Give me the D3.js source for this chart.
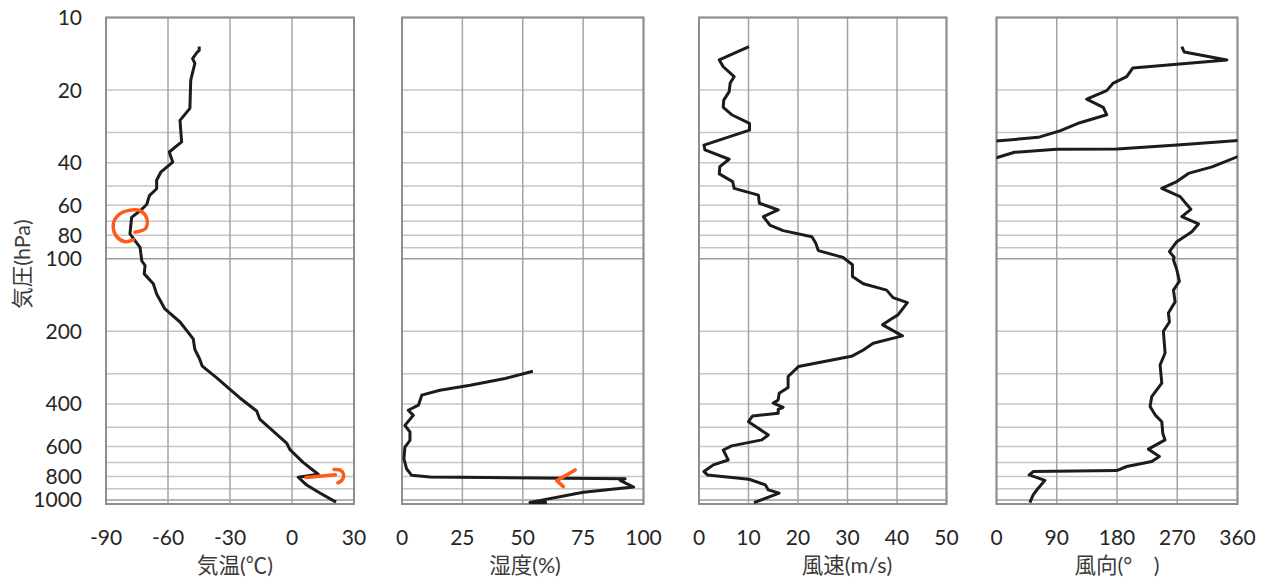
<!DOCTYPE html>
<html>
<head>
<meta charset="utf-8">
<script src="https://cdn.jsdelivr.net/npm/d3@7"></script>
<style>
  body { margin: 0; background: #fff; }
  svg text { fill: #262626; }
</style>
</head>
<body>
<svg id="chart" width="1268" height="580"></svg>
<script>
// ---------------------------------------------------------------------------
// Data (value, pressure hPa)
// ---------------------------------------------------------------------------
const pressureTicks = [10, 20, 40, 60, 80, 100, 200, 400, 600, 800, 1000];
const pressureGrid = [10, 20, 30, 40, 50, 60, 70, 80, 90, 100,
  200, 300, 400, 500, 600, 700, 800, 900, 1000];
const pressureMajor = [10, 100, 1000];

const temperature = [
  [-44.9, 13.2], [-44.9, 13.7], [-46.1, 14.0], [-48.1, 14.8], [-47.0, 15.5], [-49.0, 18.2],
  [-49.4, 23.8], [-54.2, 26.7], [-53.4, 32.8], [-59.4, 36.1], [-57.7, 39.8], [-63.5, 43.8],
  [-65.5, 47.3], [-65.5, 51.3], [-69.0, 54.8], [-70.3, 59.6], [-73.5, 63.3], [-77.6, 67.4],
  [-78.4, 78.9], [-76.0, 84.1], [-73.5, 89.7], [-72.7, 102], [-71.1, 106.7], [-71.5, 115.6],
  [-67.1, 127], [-65.5, 140], [-61.5, 161.6], [-54.2, 183], [-47.8, 215], [-47.0, 238],
  [-44.9, 258], [-43.4, 279], [-36.4, 312], [-30.0, 348], [-25.2, 378], [-17.1, 428],
  [-15.5, 464], [-2.6, 581], [-1.0, 619], [5.5, 701], [12.7, 783], [3.0, 805],
  [7.1, 868], [13.5, 936], [21.3, 1022],
];

const humidity = [
  [54.2, 293], [42.7, 314], [28.2, 335], [15.7, 351], [8.2, 368], [6.8, 405], [2.6, 425],
  [4.7, 446], [1.2, 491], [3.3, 523], [3.3, 567], [1.2, 604], [0.8, 675], [1.9, 743],
  [4.0, 791], [11.6, 804], [35.1, 808], [92.4, 817], [90.3, 830], [95.9, 885], [75.1, 929],
  [53.0, 1024], [60.0, 1026],
];

const windSpeed = [
  [10.1, 13.2], [4.1, 15.0], [4.9, 16.0], [7.1, 17.6], [6.3, 18.7], [6.1, 20.3], [5.0, 22.0],
  [4.9, 23.6], [6.6, 25.3], [10.2, 27.5], [10.2, 29.3], [1.0, 33.8], [1.2, 35.4], [6.1, 38.7],
  [4.2, 41.5], [4.1, 44.5], [6.8, 47.9], [7.1, 51.1], [12.0, 54.5], [12.2, 58.9], [16.0, 62.8],
  [13.0, 66.9], [14.3, 72.5], [17.0, 76.5], [22.8, 81.1], [23.6, 86.3], [24.1, 92.6],
  [29.1, 98.7], [31.0, 106], [31.0, 118.6], [33.2, 127], [37.9, 135], [39.2, 145], [42.1, 152],
  [40.2, 171], [38.6, 179], [37.1, 188], [41.1, 209], [35.2, 224], [33.2, 239], [30.8, 254],
  [20.1, 280], [18.0, 308], [18.0, 342], [16.2, 361], [16.0, 385], [15.0, 397], [17.0, 413],
  [16.0, 421], [16.0, 437], [10.8, 449], [10.0, 474], [14.0, 538], [12.7, 564], [6.6, 597],
  [4.9, 621], [5.9, 683], [2.9, 716], [1.0, 763], [1.7, 788], [10.1, 821], [13.4, 866],
  [14.0, 909], [16.2, 938], [11.1, 1026],
];

// values outside 0-360 run off the panel edge and are clipped, as in the original
const windDir = [
  [276.8, 13.2], [280.3, 13.9], [344.2, 15.0], [203.5, 16.2], [194.5, 17.6], [174.5, 18.7],
  [164.6, 20.1], [134.7, 21.8], [159.5, 23.6], [164.6, 25.3], [124.6, 27.3], [94.7, 29.5],
  [62.3, 31.4], [-20, 32.9], [-20, 39.6], [27, 36.2], [90, 35.2], [180, 35.1], [270, 33.8],
  [380, 32.1], [380, 35.9], [322, 41.6], [286.7, 44.3], [269.3, 47.9], [246.9, 51.1],
  [274.3, 55.3], [290.3, 62.4], [276.8, 66.9], [301.7, 71.8], [291.8, 77.3], [269.3, 85],
  [258.3, 93.5], [265.3, 98.7], [264.3, 101], [269.3, 111], [273.2, 124], [264.3, 135],
  [266.8, 151], [256.8, 168], [258.3, 183], [249.3, 200], [251.8, 246], [244.4, 276],
  [246.9, 328], [231.9, 373], [229.4, 410], [236.9, 444], [246.9, 474], [248.4, 530],
  [251.8, 564], [226.9, 616], [243.3, 661], [231.9, 693], [194.5, 727], [179.6, 756],
  [54.8, 763], [48.8, 788], [72.3, 830], [62.3, 894], [54.8, 953], [49.8, 1026],
];

// hand-drawn orange marks (value, pressure)
const tempLoopMark = [
  [-76.0, 77.7], [-70.8, 74.8], [-70.3, 68.0], [-73.6, 63.2], [-78.4, 62.9], [-84.0, 65.9],
  [-86.5, 72.4], [-84.8, 81.0], [-80.8, 85.0], [-76.8, 83.6],
];
const tempArrowMark = [[6.8, 808], [21.0, 787]];
const tempArrowHook = [[20.3, 748], [23.6, 754], [25.0, 788], [24.2, 828], [22.2, 850]];
const humidArrowMark = [[71.7, 751], [64.1, 832], [66.8, 881]];

// ---------------------------------------------------------------------------
// Layout
// ---------------------------------------------------------------------------
const panels = [
  { x0: 106, x1: 354, domain: [-90, 30], ticks: [-90, -60, -30, 0, 30],
    title: '気温(℃)', titleX: 235, data: temperature },
  { x0: 402, x1: 643.5, domain: [0, 100], ticks: [0, 25, 50, 75, 100],
    title: '湿度(%)', titleX: 525, data: humidity },
  { x0: 699, x1: 946.5, domain: [0, 50], ticks: [0, 10, 20, 30, 40, 50],
    title: '風速(m/s)', titleX: 847, data: windSpeed },
  { x0: 996.5, x1: 1237.5, domain: [0, 360], ticks: [0, 90, 180, 270, 360],
    title: '風向(°\u3000)', titleX: 1117, data: windDir },
];

const plotTop = 17.5, plotBottom = 504;
const y = d3.scaleLog().domain([10, 1040]).range([plotTop, plotBottom]);

const svg = d3.select('#chart');
const latin = 'Lato, "Noto Sans CJK JP", sans-serif';
const orange = '#ff5a1a';

panels.forEach((p, i) => {
  p.x = d3.scaleLinear().domain(p.domain).range([p.x0, p.x1]);
  const g = svg.append('g');

  g.append('clipPath').attr('id', `clip${i}`)
    .append('rect')
    .attr('x', p.x0).attr('y', plotTop)
    .attr('width', p.x1 - p.x0).attr('height', plotBottom - plotTop);

  // horizontal grid
  g.selectAll('.hgrid')
    .data(pressureGrid)
    .join('line')
    .attr('x1', p.x0).attr('x2', p.x1)
    .attr('y1', d => y(d)).attr('y2', d => y(d))
    .attr('stroke', d => pressureMajor.includes(d) ? '#9c9c9c' : '#c6c6c6')
    .attr('stroke-width', 1.5);

  // vertical grid
  g.selectAll('.vgrid')
    .data(p.ticks)
    .join('line')
    .attr('x1', d => p.x(d)).attr('x2', d => p.x(d))
    .attr('y1', plotTop).attr('y2', plotBottom)
    .attr('stroke', '#a4a4a4')
    .attr('stroke-width', 1.5);

  // border
  g.append('rect')
    .attr('x', p.x0).attr('y', plotTop)
    .attr('width', p.x1 - p.x0).attr('height', plotBottom - plotTop)
    .attr('fill', 'none')
    .attr('stroke', '#8e8e8e')
    .attr('stroke-width', 2);

  const line = d3.line().x(d => p.x(d[0])).y(d => y(d[1]));
  g.append('path')
    .attr('clip-path', `url(#clip${i})`)
    .attr('d', line(p.data))
    .attr('fill', 'none')
    .attr('stroke', '#1c1c1c')
    .attr('stroke-width', 3)
    .attr('stroke-linejoin', 'round');

  // x tick labels
  g.selectAll('.xtick')
    .data(p.ticks)
    .join('text')
    .attr('x', d => p.x(d))
    .attr('y', 545)
    .attr('text-anchor', 'middle')
    .style('font-family', latin)
    .style('font-size', '21px')
    .text(d => d);

  g.append('text')
    .attr('x', p.titleX)
    .attr('y', 573)
    .attr('text-anchor', 'middle')
    .style('font-family', latin)
    .style('font-size', '21.5px')
    .style('fill', '#3a3a3a')
    .text(p.title);
});

// y tick labels (first panel only)
svg.selectAll('.ytick')
  .data(pressureTicks)
  .join('text')
  .attr('x', 82)
  .attr('y', d => y(d))
  .attr('dy', '0.36em')
  .attr('text-anchor', 'end')
  .style('font-family', latin)
  .style('font-size', '21px')
  .text(d => d);

svg.append('text')
  .attr('transform', 'translate(22,264) rotate(-90)')
  .attr('text-anchor', 'middle')
  .attr('dy', '0.35em')
  .style('font-family', latin)
  .style('font-size', '21.5px')
  .style('fill', '#3a3a3a')
  .text('気圧(hPa)');

// orange annotations
const tx = panels[0].x, hx = panels[1].x;
const mark = (pts, xs, curve) => d3.line().curve(curve)
  .x(d => xs(d[0])).y(d => y(d[1]))(pts);

[
  mark(tempLoopMark, tx, d3.curveCatmullRom),
  mark(tempArrowMark, tx, d3.curveLinear),
  mark(tempArrowHook, tx, d3.curveCatmullRom),
  mark(humidArrowMark, hx, d3.curveLinear),
].forEach(d => {
  svg.append('path')
    .attr('d', d)
    .attr('fill', 'none')
    .attr('stroke', orange)
    .attr('stroke-width', 3.5)
    .attr('stroke-linecap', 'round')
    .attr('stroke-linejoin', 'round');
});
</script>
</body>
</html>
